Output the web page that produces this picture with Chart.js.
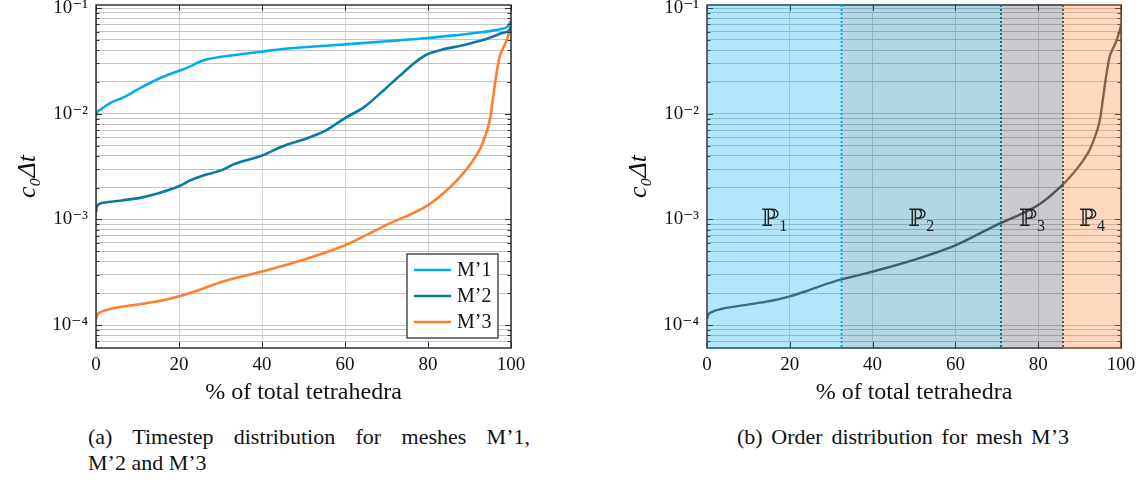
<!DOCTYPE html>
<html><head><meta charset="utf-8">
<script src="https://cdn.jsdelivr.net/npm/chart.js@4/dist/chart.umd.min.js"></script>
<style>
html,body{margin:0;padding:0;background:#fff;width:1144px;height:486px;overflow:hidden;}
canvas{position:absolute;top:0;}
#cA{left:0}
#cB{left:611px}
.cap{position:absolute;font-family:'Liberation Serif','DejaVu Serif',serif;font-size:22px;color:#111;line-height:26px;white-space:nowrap}
.just{text-align:justify;text-align-last:justify;white-space:normal}
</style></head><body>
<canvas id="cA" width="530" height="410"></canvas>
<canvas id="cB" width="533" height="410"></canvas>
<div class="cap just" style="left:88px;top:424px;width:442px">(a) Timestep distribution for meshes M’1,</div>
<div class="cap" style="left:88px;top:450px">M’2 and M’3</div>
<div class="cap just" style="left:737px;top:424px;width:332px">(b) Order distribution for mesh M’3</div>
<script>
// ---- data ----
const m1X=[0,0.3,1,3.4,6.6,10.6,15.4,20,22.6,25.4,30.6,35.4,40,45,50,60,70,80,86.3,92.8,97.6,99.2,100];
const m1Y=[0.0096,0.0104,0.0109,0.0126,0.0143,0.0175,0.0217,0.0255,0.0279,0.0316,0.0348,0.0368,0.0387,0.041,0.0426,0.0454,0.0485,0.0521,0.0552,0.059,0.0634,0.0667,0.076];
const m2X=[0,0.2,1.8,6.6,10.6,14.6,20,22.6,25.8,30.6,33,40,45,50,54.9,60,64.6,69.4,73.4,77.1,79.5,83.1,87.9,93.2,97.6,99.6,100];
const m2Y=[0.00117,0.00133,0.00144,0.00152,0.0016,0.00175,0.00206,0.00233,0.0026,0.00296,0.0033,0.00402,0.00492,0.0057,0.0068,0.0091,0.01156,0.0168,0.0233,0.0311,0.036,0.0402,0.0441,0.0499,0.0577,0.062,0.066];
const m3X=[0,0.3,1,3.4,10.6,16.2,20,24.2,30.6,40,50,60,69.4,80.3,85.5,88,90.6,92.6,93.6,94.4,95,95.6,96.4,97.2,98,98.8,99.5,100];
const m3Y=[1.14e-4,1.25e-4,1.32e-4,1.42e-4,1.58e-4,1.72e-4,1.87e-4,2.11e-4,2.58e-4,3.21e-4,4.15e-4,5.69e-4,8.65e-4,1.39e-3,2.05e-3,2.6e-3,3.5e-3,4.7e-3,5.9e-3,7.3e-3,9.2e-3,0.0135,0.0225,0.034,0.041,0.048,0.058,0.068];
const seriesLabels=['M’1','M’2','M’3'];
const seriesColors=['#00aeef','#0a7aa3','#ff7f2e'];
const xTicks=[0,20,40,60,80,100];
const yMin=6.07e-5, yMax=0.107;
const regionBounds=[0,32.5,71,86,100];
const regionLabels=['ℙ₁','ℙ₂','ℙ₃','ℙ₄'];
const regionLabelY=1e-3;
const regionFills=['rgba(0,174,239,0.3)','rgba(0,119,160,0.3)','rgba(72,80,90,0.3)','rgba(255,127,42,0.3)'];
const dividerColors=['#00aeef','#0a6d94','#5a5550'];

const SERIF="'Liberation Serif','DejaVu Serif',serif";
const sup={'-':'⁻','0':'⁰','1':'¹','2':'²','3':'³','4':'⁴','5':'⁵'};
const subToDigit={'₀':'0','₁':'1','₂':'2','₃':'3','₄':'4'};
function pts(xs,ys){return xs.map((x,i)=>({x:x,y:ys[i]}));}
function logLabel(v){const e=Math.round(Math.log10(v));return '10'+String(e).split('').map(c=>sup[c]).join('');}
function isDecade(v){const l=Math.log10(v);return Math.abs(l-Math.round(l))<1e-6;}
function yTicksList(){const t=[];for(let e=-5;e<=-1;e++){for(let m=1;m<=9;m++){const v=m*Math.pow(10,e);if(v>=yMin&&v<=yMax)t.push({value:v});}}return t;}

function makeScales(){
 return {
  x:{type:'linear',min:0,max:100,bounds:'data',
     afterBuildTicks:s=>{s.ticks=xTicks.map(v=>({value:v}));},
     ticks:{font:{family:SERIF,size:19},color:'#111',padding:6,maxRotation:0,autoSkip:false},
     grid:{color:'#d2d2d2',lineWidth:1,drawTicks:false},
     border:{display:false},
     title:{display:true,text:'% of total tetrahedra',font:{family:SERIF,size:24},color:'#111',padding:{top:0,bottom:3}},
     afterFit:s=>{s.height=62;s.paddingLeft=0;s.paddingRight=0;}
  },
  y:{type:'logarithmic',min:yMin,max:yMax,bounds:'data',
     afterBuildTicks:s=>{s.ticks=yTicksList();},
     ticks:{autoSkip:false,font:{family:SERIF,size:19},color:'#111',padding:8,callback:(v)=>isDecade(v)?logLabel(v):''},
     grid:{color:'#c4c4c4',lineWidth:1,drawTicks:false},
     border:{display:false},
     title:{display:true,text:'c₀Δt',font:{family:SERIF,size:26,style:'italic'},color:'#111',padding:{top:13,bottom:0}},
     afterFit:s=>{s.width=96;s.paddingTop=0;s.paddingBottom=0;}
  }
 };
}

function drawFrame(chart){
  const {ctx,chartArea:a,scales:{x,y}}=chart;
  ctx.save();
  ctx.strokeStyle='#333';ctx.lineWidth=1;
  ctx.beginPath();
  y.ticks.forEach(t=>{const py=Math.round(y.getPixelForValue(t.value))+0.5;const L=isDecade(t.value)?6:3.5;
    ctx.moveTo(a.left,py);ctx.lineTo(a.left+L,py);ctx.moveTo(a.right,py);ctx.lineTo(a.right-L,py);});
  x.ticks.forEach(t=>{const px=Math.round(x.getPixelForValue(t.value))+0.5;
    ctx.moveTo(px,a.bottom);ctx.lineTo(px,a.bottom-6);ctx.moveTo(px,a.top);ctx.lineTo(px,a.top+6);});
  ctx.stroke();
  ctx.lineWidth=1.4;ctx.strokeStyle='#222';
  ctx.strokeRect(a.left,a.top,a.right-a.left,a.bottom-a.top);
  ctx.restore();
}

const legendPlugin={id:'boxLegend',afterDatasetsDraw(chart){
  drawFrame(chart);
  const {ctx,chartArea:a}=chart;const w=91,h=84;const bx=a.right-13-w,by=a.bottom-10-h;
  ctx.save();ctx.fillStyle='#fff';ctx.fillRect(bx,by,w,h);ctx.strokeStyle='#222';ctx.lineWidth=1.2;ctx.strokeRect(bx,by,w,h);
  chart.data.datasets.forEach((ds,i)=>{const yy=by+16+i*26;ctx.strokeStyle=ds.borderColor;ctx.lineWidth=2.6;ctx.beginPath();ctx.moveTo(bx+7,yy);ctx.lineTo(bx+44,yy);ctx.stroke();
    ctx.fillStyle='#111';ctx.font='20px '+SERIF;ctx.textBaseline='middle';ctx.textAlign='left';ctx.fillText(ds.label,bx+50,yy+1);});
  ctx.restore();
}};

const regionPlugin={id:'regions',afterDatasetsDraw(chart){
  drawFrame(chart);
  const {ctx,chartArea:a,scales:{x,y}}=chart;
  ctx.save();
  for(let i=0;i<regionLabels.length;i++){
    const x0=x.getPixelForValue(regionBounds[i]),x1=x.getPixelForValue(regionBounds[i+1]);
    ctx.fillStyle=regionFills[i];ctx.fillRect(x0,a.top-1,x1-x0,a.bottom-a.top+2);
  }
  ctx.lineWidth=2;ctx.setLineDash([2,2]);
  for(let i=1;i<regionBounds.length-1;i++){
    const px=x.getPixelForValue(regionBounds[i]);
    ctx.strokeStyle=dividerColors[i-1];ctx.beginPath();ctx.moveTo(px,a.top);ctx.lineTo(px,a.bottom);ctx.stroke();
  }
  ctx.setLineDash([]);
  ctx.fillStyle='#222';ctx.textBaseline='middle';
  regionLabels.forEach((t,i)=>{
    const cx=x.getPixelForValue((regionBounds[i]+regionBounds[i+1])/2);
    const cy=y.getPixelForValue(regionLabelY);
    const main=t.slice(0,1), sub=t.slice(1).split('').map(c=>subToDigit[c]||c).join('');
    ctx.font='24px '+SERIF;const mw=ctx.measureText(main).width;
    ctx.font='16px '+SERIF;const sw=ctx.measureText(sub).width;
    const x0=cx-(mw+sw)/2;
    ctx.textAlign='left';
    ctx.font='24px '+SERIF;ctx.fillText(main,x0,cy);
    ctx.font='16px '+SERIF;ctx.fillText(sub,x0+mw,cy+7);
  });
  ctx.restore();
}};

const common={responsive:false,animation:false,devicePixelRatio:1,
  layout:{padding:{top:5,right:19,left:0,bottom:0}},
  plugins:{legend:{display:false},tooltip:{enabled:false}},
  elements:{point:{radius:0}}};

new Chart(document.getElementById('cA'),{
  type:'line',
  data:{datasets:[
    {label:seriesLabels[0],data:pts(m1X,m1Y),borderColor:seriesColors[0],borderWidth:2.6,pointRadius:0,cubicInterpolationMode:'monotone',fill:false},
    {label:seriesLabels[1],data:pts(m2X,m2Y),borderColor:seriesColors[1],borderWidth:2.6,pointRadius:0,cubicInterpolationMode:'monotone',fill:false},
    {label:seriesLabels[2],data:pts(m3X,m3Y),borderColor:seriesColors[2],borderWidth:2.6,pointRadius:0,cubicInterpolationMode:'monotone',fill:false}
  ]},
  options:Object.assign({},common,{scales:makeScales()}),
  plugins:[legendPlugin]
});

new Chart(document.getElementById('cB'),{
  type:'line',
  data:{datasets:[
    {label:seriesLabels[2],data:pts(m3X,m3Y),borderColor:'#555555',borderWidth:2.4,pointRadius:0,cubicInterpolationMode:'monotone',fill:false}
  ]},
  options:Object.assign({},common,{layout:{padding:{top:5,right:23,left:0,bottom:0}},scales:makeScales()}),
  plugins:[regionPlugin]
});
</script>
</body></html>
